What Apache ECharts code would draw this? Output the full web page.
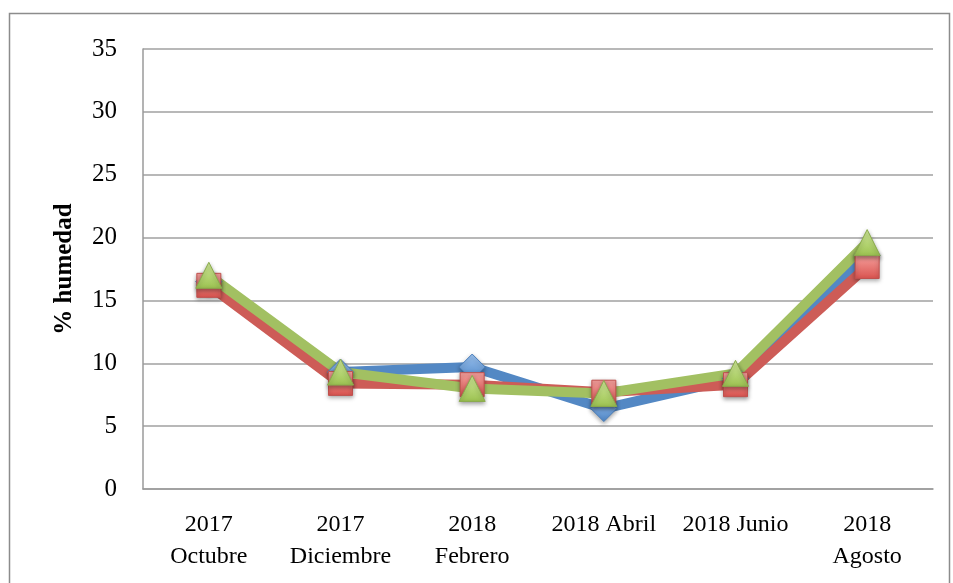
<!DOCTYPE html>
<html>
<head>
<meta charset="utf-8">
<script src="https://cdn.jsdelivr.net/npm/echarts@6/dist/echarts.min.js"></script>
<style>
  html, body { margin: 0; padding: 0; background: #fff; }
  #chart { width: 953px; height: 583px; }
</style>
</head>
<body>
<div id="chart"></div>
<script>
const categories = ['2017\nOctubre', '2017\nDiciembre', '2018\nFebrero', '2018 Abril', '2018 Junio', '2018\nAgosto']
const serieA = [16.5, 9.3, 9.7, 6.4, 8.8, 18.6]
const serieB = [16.2, 8.4, 8.3, 7.7, 8.3, 17.7]
const serieC = [17.0, 9.3, 8.0, 7.6, 9.2, 19.6]
const yTicks = [0, 5, 10, 15, 20, 25, 30, 35]

const font = '"Liberation Serif", "DejaVu Serif", serif'

function grad(top, bottom) {
  return new echarts.graphic.LinearGradient(0, 0, 0, 1, [
    { offset: 0, color: top },
    { offset: 1, color: bottom },
  ])
}

function makeSeries(name, data, line, symbol, size, fillTop, fillBottom, border) {
  return {
    name,
    type: 'line',
    data,
    symbol,
    symbolSize: size,
    lineStyle: { color: line, width: 10 },
    itemStyle: {
      color: grad(fillTop, fillBottom),
      borderColor: border,
      borderWidth: 1,
      shadowColor: 'rgba(0,0,0,0.35)',
      shadowBlur: 4,
      shadowOffsetY: 2,
    },
    z: 2,
  }
}

const chart = echarts.init(document.getElementById('chart'), null, { renderer: 'canvas' })
chart.setOption({
  animation: false,
  backgroundColor: '#fff',
  graphic: [{
    type: 'rect',
    shape: { x: 9.5, y: 13.5, width: 940, height: 600 },
    style: { fill: 'none', stroke: '#8c8c8c', lineWidth: 1.5 },
    silent: true,
  }],
  grid: { left: 143, right: 20, top: 49, bottom: 94 },
  xAxis: {
    type: 'category',
    data: categories,
    axisLine: { lineStyle: { color: '#9a9a9a', width: 1.5 } },
    axisTick: { show: false },
    axisLabel: {
      color: '#000',
      fontFamily: font,
      fontSize: 24,
      lineHeight: 32,
      margin: 20,
      interval: 0,
    },
  },
  yAxis: {
    type: 'value',
    min: yTicks[0],
    max: yTicks[yTicks.length - 1],
    interval: 5,
    name: '% humedad',
    nameLocation: 'middle',
    nameGap: 66,
    nameTextStyle: { color: '#000', fontFamily: font, fontSize: 25, fontWeight: 'bold' },
    axisLine: { show: true, lineStyle: { color: '#9a9a9a', width: 1.5 } },
    axisTick: { show: false },
    splitLine: { lineStyle: { color: '#a0a0a0', width: 1.5 } },
    axisLabel: { color: '#000', fontFamily: font, fontSize: 25, margin: 26 },
  },
  series: [
    makeSeries('Serie 1', serieA, '#5388c4', 'diamond', 26, '#9cc3f0', '#4f86c6', '#4a7ebb'),
    makeSeries('Serie 2', serieB, '#cd5c57', 'rect', 24, '#f7a3a0', '#d9534f', '#c0504d'),
    makeSeries('Serie 3', serieC, '#a2c062', 'triangle', 26, '#d2eb9a', '#9bc150', '#8aab4c'),
  ],
})
</script>
</body>
</html>
